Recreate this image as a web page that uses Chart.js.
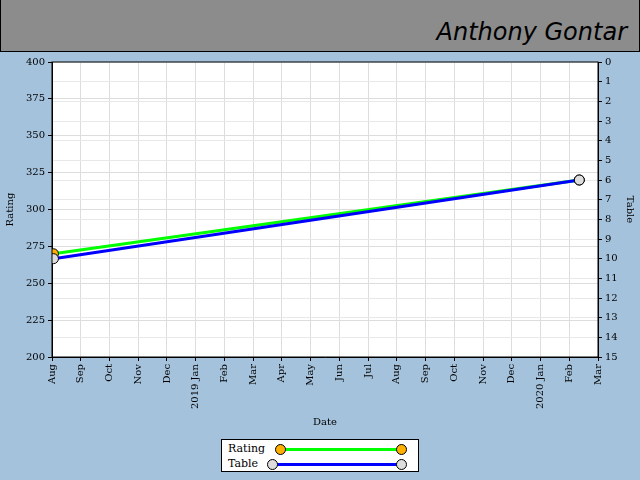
<!DOCTYPE html>
<html><head>
<script src="https://cdn.jsdelivr.net/npm/chart.js@4"></script>
<style>
body{margin:0;width:640px;height:480px;background:#a4c2dc;position:relative;overflow:hidden;font-family:"DejaVu Serif",serif}
#head{position:absolute;left:0;top:0;width:638px;height:51px;background:#8c8c8c;border:1px solid #000;border-top:none}
#head span{position:absolute;right:12px;top:18px;font-size:24px;font-family:"DejaVu Sans",sans-serif;font-weight:200;font-style:italic}
#wrap{position:absolute;left:0;top:52px;width:640px;height:380px}
#leg{position:absolute;left:221px;top:439px;width:196px;height:31px;background:#fff;border:1px solid #000;font-size:11px}
.row{position:relative;height:13px;margin-top:2px}
.row span{position:absolute;left:6px;top:0}
.ln{position:absolute;left:58px;width:124px;top:6px;height:3px}
.pt{position:absolute;top:2px;width:9px;height:9px;border:1px solid #000;border-radius:50%}
</style></head><body>
<div id="head"><span>Anthony Gontar</span></div>
<div id="wrap"><canvas id="c" width="640" height="380"></canvas></div>
<div id="leg">
<div class="row"><span>Rating</span><div class="ln" style="background:#00ff00"></div><div class="pt" style="left:53px;background:#ffb000"></div><div class="pt" style="left:174px;background:#ffb000"></div></div>
<div class="row"><span>Table</span><div class="ln" style="background:#0000ff;left:50px;width:132px"></div><div class="pt" style="left:45px;background:#ddd"></div><div class="pt" style="left:174px;background:#ddd"></div></div>
</div>
<script>
// months since Aug 2018
const monthLabels = ["Aug","Sep","Oct","Nov","Dec","2019 Jan","Feb","Mar","Apr","May","Jun","Jul","Aug","Sep","Oct","Nov","Dec","2020 Jan","Feb","Mar"];
const dates = [0.05, 18.35];
const rating = [270, 320];
const table = [10, 6];

const fnt = {family:"DejaVu Serif", size:10};
new Chart(document.getElementById('c'), {
  type:'line',
  data:{datasets:[
    {label:'Table', data:dates.map((d,i)=>({x:d,y:table[i]})), yAxisID:'y2', borderColor:'#0000ff', borderWidth:3,
     pointBackgroundColor:'#ddd', pointBorderColor:'#000', pointRadius:5, pointBorderWidth:1},
    {label:'Rating', data:dates.map((d,i)=>({x:d,y:rating[i]})), yAxisID:'y', borderColor:'#00ff00', borderWidth:3,
     pointBackgroundColor:'#ffb000', pointBorderColor:'#000', pointRadius:5, pointBorderWidth:1}
  ]},
  options:{
    responsive:false, animation:false, maintainAspectRatio:false,
    layout:{padding:{top:10}},
    plugins:{legend:{display:false}, tooltip:{enabled:false}},
    scales:{
      x:{type:'linear', min:0, max:19, afterFit:s=>{s.height=75},
        ticks:{stepSize:1, color:'#000', font:fnt, maxRotation:90, minRotation:90, autoSkip:false,
          callback:v=>monthLabels[v]},
        grid:{color:'#ddd', tickColor:'#000', tickLength:4},
        border:{color:'#000'},
        title:{display:true, text:'Date', color:'#000', font:fnt}},
      y:{position:'left', min:200, max:400, afterFit:s=>{s.width=52},
        ticks:{stepSize:25, color:'#000', font:fnt, autoSkip:false},
        grid:{color:'#ddd', tickColor:'#000', tickLength:4},
        border:{color:'#000'},
        title:{display:true, text:'Rating', color:'#000', font:fnt}},
      y2:{position:'right', min:0, max:15, reverse:true, afterFit:s=>{s.width=42},
        ticks:{stepSize:1, color:'#000', font:fnt, autoSkip:false},
        grid:{color:'#e8e8e8', tickColor:'#000', tickLength:4},
        border:{color:'#000'},
        title:{display:true, text:'Table', color:'#000', font:fnt}}
    }
  },
  plugins:[{id:'bg', beforeDraw(ch){const a=ch.chartArea,g=ch.ctx;g.save();g.fillStyle='#fff';g.fillRect(a.left,a.top,a.right-a.left,a.bottom-a.top);g.restore();},
    afterDraw(ch){const a=ch.chartArea,g=ch.ctx;g.save();g.strokeStyle='#000';g.strokeRect(a.left,a.top,a.right-a.left,a.bottom-a.top);g.restore();}}]
});
</script>
</body></html>
